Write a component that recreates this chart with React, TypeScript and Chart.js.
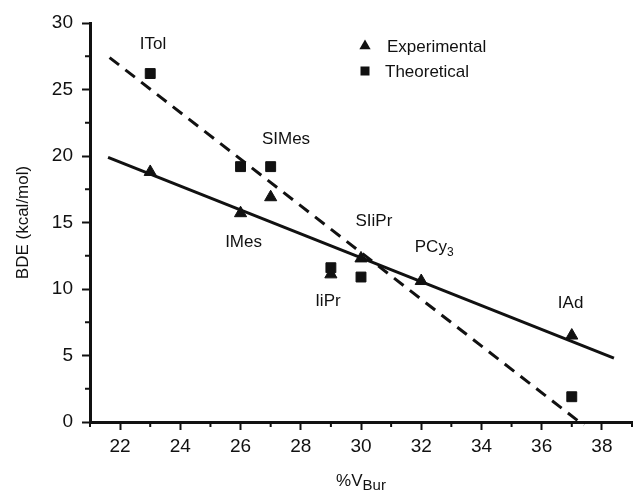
import React, { useEffect, useRef } from "react";
import { Chart, registerables } from "chart.js";

Chart.register(...registerables);

// ---- data ----
const expX = [23, 26, 27, 29, 30, 32, 37];
const expY = [18.8, 15.7, 16.9, 11.1, 12.3, 10.6, 6.5];
const theoX = [23, 26, 27, 29, 30, 37];
const theoY = [26.2, 19.2, 19.2, 11.6, 10.9, 1.9];
const expFitX = [21.6, 38.4];
const expFitY = [19.9, 4.8];
const theoFitX = [21.65, 37.4];
const theoFitY = [27.4, -0.25];
const xTicks = [22, 24, 26, 28, 30, 32, 34, 36, 38];
const xMinorTicks = [21, 23, 25, 27, 29, 31, 33, 35, 37, 39];
const yMinorTicks = [2.5, 7.5, 12.5, 17.5, 22.5, 27.5];
const labelNames = ["ITol", "SIMes", "IMes", "SIiPr", "PCy", "IiPr", "IAd"];
const labelSubs = ["", "", "", "", "3", "", ""];
const labelX = [23.09, 27.51, 26.1, 30.43, 32.43, 28.9, 36.96];
const labelY = [28.5, 21.35, 13.6, 15.19, 13.2, 9.17, 9.0];
const legendNames = ["Experimental", "Theoretical"];

const FONT = "'Liberation Sans', Arial, Helvetica, sans-serif";
const INK = "#111";

const zip = (xs: number[], ys: number[]) => xs.map((x, i) => ({ x, y: ys[i] }));

const overlay = {
  id: "overlay",
  afterDraw(chart: any) {
    const { ctx, chartArea } = chart;
    const xs = chart.scales.x;
    const ys = chart.scales.y;
    ctx.save();
    ctx.strokeStyle = INK;
    ctx.fillStyle = INK;
    ctx.lineWidth = 2;
    // minor ticks
    xMinorTicks.forEach((v) => {
      const px = xs.getPixelForValue(v);
      ctx.beginPath();
      ctx.moveTo(px, chartArea.bottom);
      ctx.lineTo(px, chartArea.bottom + 5);
      ctx.stroke();
    });
    yMinorTicks.forEach((v) => {
      const py = ys.getPixelForValue(v);
      ctx.beginPath();
      ctx.moveTo(chartArea.left, py);
      ctx.lineTo(chartArea.left - 5, py);
      ctx.stroke();
    });
    // point labels
    ctx.textBaseline = "alphabetic";
    labelNames.forEach((name, i) => {
      const main = `17px ${FONT}`;
      const sub = `12px ${FONT}`;
      ctx.font = main;
      const w1 = ctx.measureText(name).width;
      ctx.font = sub;
      const w2 = labelSubs[i] ? ctx.measureText(labelSubs[i]).width : 0;
      const cx = xs.getPixelForValue(labelX[i]);
      const cy = ys.getPixelForValue(labelY[i]);
      const x0 = cx - (w1 + w2) / 2;
      ctx.textAlign = "left";
      ctx.font = main;
      ctx.fillText(name, x0, cy + 6);
      if (labelSubs[i]) {
        ctx.font = sub;
        ctx.fillText(labelSubs[i], x0 + w1, cy + 10);
      }
    });
    // legend
    const lx = chartArea.left + 275;
    const ly1 = chartArea.top + 23;
    const ly2 = chartArea.top + 48;
    ctx.beginPath();
    const r = 6.5;
    ctx.moveTo(lx, ly1 - r);
    ctx.lineTo(lx + r * 0.866, ly1 + r / 2);
    ctx.lineTo(lx - r * 0.866, ly1 + r / 2);
    ctx.closePath();
    ctx.fill();
    ctx.fillRect(lx - 4.5, ly2 - 4.5, 9, 9);
    ctx.font = `17px ${FONT}`;
    ctx.textAlign = "left";
    ctx.fillText(legendNames[0], lx + 22, ly1 + 6);
    ctx.fillText(legendNames[1], lx + 20, ly2 + 6);
    // x title with subscript
    const tMain = `17px ${FONT}`;
    const tSub = `15px ${FONT}`;
    ctx.font = tMain;
    const a = ctx.measureText("%V").width;
    ctx.font = tSub;
    const b = ctx.measureText("Bur").width;
    const cxT = (chartArea.left + chartArea.right) / 2;
    const sx = cxT - (a + b) / 2;
    ctx.font = tMain;
    ctx.fillText("%V", sx, 486);
    ctx.font = tSub;
    ctx.fillText("Bur", sx + a, 490);
    ctx.restore();
  },
};

export default function App() {
  const ref = useRef<HTMLCanvasElement | null>(null);
  useEffect(() => {
    if (!ref.current) return;
    Chart.defaults.font.family = FONT;
    Chart.defaults.color = INK;
    const chart = new Chart(ref.current, {
      type: "scatter",
      data: {
        datasets: [
          {
            label: "Experimental fit",
            data: zip(expFitX, expFitY),
            showLine: true,
            borderColor: INK,
            borderWidth: 3,
            pointRadius: 0,
            fill: false,
          },
          {
            label: "Theoretical fit",
            data: zip(theoFitX, theoFitY),
            showLine: true,
            borderColor: INK,
            borderWidth: 3,
            borderDash: [12, 8],
            pointRadius: 0,
            fill: false,
            clip: false,
          },
          {
            label: "Experimental",
            data: zip(expX, expY),
            pointStyle: "triangle",
            pointRadius: 7,
            backgroundColor: INK,
            borderColor: INK,
            borderWidth: 1,
          },
          {
            label: "Theoretical",
            data: zip(theoX, theoY),
            pointStyle: "rect",
            pointRadius: 7,
            backgroundColor: INK,
            borderColor: INK,
            borderWidth: 1,
          },
        ],
      },
      options: {
        animation: false,
        responsive: false,
        layout: { autoPadding: false, padding: { top: 23, right: 1, left: 0, bottom: 0 } },
        plugins: { legend: { display: false }, tooltip: { enabled: false } },
        scales: {
          x: {
            type: "linear",
            min: 21,
            max: 39,
            afterBuildTicks: (s: any) => {
              s.ticks = xTicks.map((v) => ({ value: v }));
            },
            afterFit: (s: any) => {
              s.height = 71;
              s.paddingRight = 0;
              s.paddingLeft = 0;
            },
            grid: {
              drawOnChartArea: false,
              drawTicks: true,
              tickLength: 8,
              tickWidth: 2,
              tickColor: INK,
            },
            border: { display: true, color: INK, width: 3 },
            ticks: { font: { size: 19 }, color: INK, padding: 5, maxRotation: 0 },
          },
          y: {
            type: "linear",
            min: 0,
            max: 30,
            ticks: { stepSize: 5, font: { size: 19 }, color: INK, padding: 9 },
            afterFit: (s: any) => {
              s.width = 90;
              s.paddingTop = 0;
              s.paddingBottom = 0;
            },
            grid: {
              drawOnChartArea: false,
              drawTicks: true,
              tickLength: 8,
              tickWidth: 2,
              tickColor: INK,
            },
            border: { display: true, color: INK, width: 3 },
            title: {
              display: true,
              text: "BDE (kcal/mol)",
              font: { size: 17 },
              color: INK,
              padding: { top: 13, bottom: 0 },
            },
          },
        },
      },
      plugins: [overlay],
    } as any);
    return () => chart.destroy();
  }, []);
  return (
    <div style={{ position: "absolute", left: 0, top: 0, width: 633, height: 493, background: "#fff" }}>
      <canvas ref={ref} width={633} height={493} style={{ display: "block" }} />
    </div>
  );
}
